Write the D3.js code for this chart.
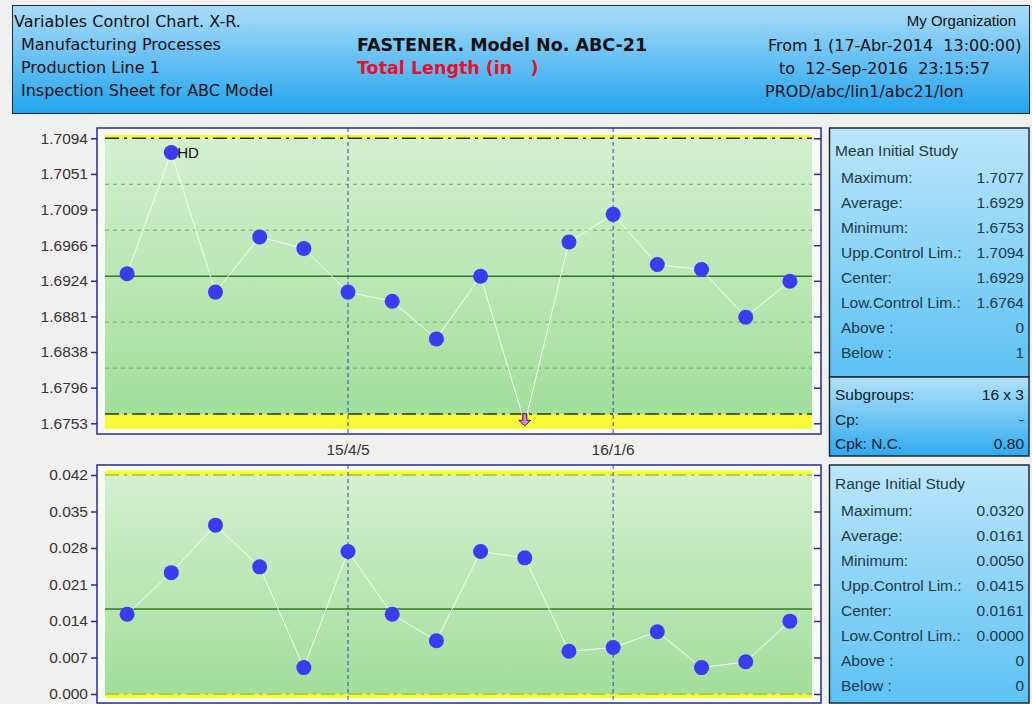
<!DOCTYPE html>
<html>
<head>
<meta charset="utf-8">
<script src="https://cdn.jsdelivr.net/npm/d3@7"></script>
<style>
  body { margin: 0; background: #f0f0f0; }
  text { white-space: pre; }
</style>
</head>
<body>
<svg id="chart" width="1032" height="704"></svg>
<script>
// ---- Data -------------------------------------------------------------
const subgroups = [1, 2, 3, 4, 5, 6, 7, 8, 9, 10, 11, 12, 13, 14, 15, 16];
const meanValues = [1.6932, 1.7077, 1.6910, 1.6976, 1.6962, 1.6910, 1.6899, 1.6854,
                    1.6929, 1.6753, 1.6970, 1.7003, 1.6943, 1.6937, 1.6880, 1.6923];
const rangeValues = [0.0151, 0.0230, 0.0320, 0.0241, 0.0050, 0.0270, 0.0151, 0.0101,
                     0.0270, 0.0258, 0.0081, 0.0088, 0.0118, 0.0050, 0.0061, 0.0138];

const meanLimits = { ucl: 1.7094, cl: 1.6929, lcl: 1.6764 };
const rangeLimits = { ucl: 0.0415, cl: 0.0161, lcl: 0.0000 };

const meanTickValues = [1.6753, 1.67956, 1.68383, 1.68809, 1.69235, 1.69661, 1.70088, 1.70514, 1.7094];
const meanTickLabels = ["1.6753", "1.6796", "1.6838", "1.6881", "1.6924", "1.6966", "1.7009", "1.7051", "1.7094"];
const rangeTickValues = [0, 0.006917, 0.013833, 0.02075, 0.027667, 0.034583, 0.0415];
const rangeTickLabels = ["0.000", "0.007", "0.014", "0.021", "0.028", "0.035", "0.042"];

const dateMarks = [ { subgroup: 6, label: "15/4/5" }, { subgroup: 12, label: "16/1/6" } ];
const pointNotes = [ { subgroup: 2, text: "HD" } ];

const headerLeft = ["Variables Control Chart. X-R.", "Manufacturing Processes", "Production Line 1", "Inspection Sheet for ABC Model"];
const headerTitle = "FASTENER. Model No. ABC-21";
const headerVariable = "Total Length (in   )";
const headerOrg = "My Organization";
const headerRight = ["From 1 (17-Abr-2014  13:00:00)", "to  12-Sep-2016  23:15:57", "PROD/abc/lin1/abc21/lon"];

const studyRowLabels = ["Maximum:", "Average:", "Minimum:", "Upp.Control Lim.:", "Center:", "Low.Control Lim.:", "Above :", "Below :"];
const meanStudyValues = ["1.7077", "1.6929", "1.6753", "1.7094", "1.6929", "1.6764", "0", "1"];
const rangeStudyValues = ["0.0320", "0.0161", "0.0050", "0.0415", "0.0161", "0.0000", "0", "0"];
const capabilityLabels = ["Subgroups:", "Cp:", "Cpk: N.C."];
const capabilityValues = ["16 x 3", "-", "0.80"];

// ---- Setup -------------------------------------------------------------
const svg = d3.select("#chart");
const defs = svg.append("defs");

function vGradient(id, stops) {
  const g = defs.append("linearGradient").attr("id", id)
    .attr("x1", 0).attr("y1", 0).attr("x2", 0).attr("y2", 1);
  stops.forEach(([o, c]) => g.append("stop").attr("offset", o).attr("stop-color", c));
}
vGradient("headerGrad", [[0, "#aadcf8"], [1, "#22a4ee"]]);
vGradient("panelGrad", [[0, "#bce6fa"], [1, "#5cc2f4"]]);
vGradient("capGrad", [[0, "#b4e2f8"], [1, "#2eaaf0"]]);
vGradient("greenGrad", [[0, "#d3f0cf"], [1, "#a3de9b"]]);

defs.append("clipPath").attr("id", "headerClip")
  .append("rect").attr("x", 12).attr("y", 5).attr("width", 1017.5).attr("height", 109);

const headFont = "'DejaVu Sans', sans-serif";
const bodyFont = "'Liberation Sans', Arial, sans-serif";

svg.append("rect").attr("width", 1032).attr("height", 704).attr("fill", "#f0f0f0");

// ---- Header ------------------------------------------------------------
svg.append("rect").attr("x", 12.5).attr("y", 5.5).attr("width", 1017).attr("height", 108)
  .attr("fill", "url(#headerGrad)").attr("stroke", "#1d2c3c").attr("stroke-width", 1);

const header = svg.append("g").attr("font-family", headFont).attr("fill", "#111")
  .attr("clip-path", "url(#headerClip)");
header.selectAll("text.left").data(headerLeft).join("text")
  .attr("class", "left")
  .attr("x", (d, i) => i === 0 ? 14 : 21)
  .attr("y", (d, i) => 27 + i * 23)
  .attr("font-size", 16)
  .text(d => d);
header.append("text").attr("x", 357).attr("y", 51).attr("font-size", 17.5)
  .attr("font-weight", "bold").text(headerTitle);
header.append("text").attr("x", 357).attr("y", 74).attr("font-size", 17.5)
  .attr("font-weight", "bold").attr("fill", "#e8102a").text(headerVariable);
header.append("text").attr("x", 1016).attr("y", 26).attr("font-size", 15)
  .attr("text-anchor", "end").attr("font-family", bodyFont).text(headerOrg);
header.selectAll("text.right").data(headerRight).join("text")
  .attr("class", "right")
  .attr("x", (d, i) => [768, 779, 765][i])
  .attr("y", (d, i) => 51 + i * 23)
  .attr("font-size", 16)
  .text(d => d);

// ---- Chart helpers -------------------------------------------------------
const x = d3.scalePoint().domain(subgroups).range([105, 812]).padding(0.5);

function drawChart(opts) {
  const { frame, inner, y, limits, values, tickValues, tickLabels, sigmaLines, limitColor, limitWidth } = opts;
  const g = svg.append("g");

  g.append("rect").attr("x", frame.x0).attr("y", frame.y0)
    .attr("width", frame.x1 - frame.x0).attr("height", frame.y1 - frame.y0)
    .attr("fill", "#f7fbf6");

  // out-of-control zones
  g.append("rect").attr("x", inner.x0).attr("y", inner.y0)
    .attr("width", inner.x1 - inner.x0).attr("height", inner.y1 - inner.y0)
    .attr("fill", "#f9f93a");
  // in-control zone
  g.append("rect").attr("x", inner.x0).attr("y", y(limits.ucl))
    .attr("width", inner.x1 - inner.x0).attr("height", y(limits.lcl) - y(limits.ucl))
    .attr("fill", "url(#greenGrad)");

  // sigma zone lines
  if (sigmaLines) {
    const su = (limits.ucl - limits.cl) / 3, sl = (limits.cl - limits.lcl) / 3;
    const zones = [limits.cl + su, limits.cl + 2 * su, limits.cl - sl, limits.cl - 2 * sl];
    g.selectAll("line.zone").data(zones).join("line")
      .attr("x1", inner.x0).attr("x2", inner.x1)
      .attr("y1", d => y(d)).attr("y2", d => y(d))
      .attr("stroke", "#6fae65").attr("stroke-width", 1).attr("stroke-dasharray", "4,4");
  }

  // centre line
  g.append("line").attr("x1", inner.x0).attr("x2", inner.x1)
    .attr("y1", y(limits.cl)).attr("y2", y(limits.cl))
    .attr("stroke", "#2f7a26").attr("stroke-width", 1.5);

  // control limits
  g.selectAll("line.limit").data([limits.ucl, limits.lcl]).join("line")
    .attr("x1", inner.x0).attr("x2", inner.x1)
    .attr("y1", d => y(d)).attr("y2", d => y(d))
    .attr("stroke", limitColor).attr("stroke-width", limitWidth)
    .attr("stroke-dasharray", "14,5,3,5");

  // date markers
  g.selectAll("line.date").data(dateMarks).join("line")
    .attr("x1", d => x(d.subgroup)).attr("x2", d => x(d.subgroup))
    .attr("y1", frame.y0).attr("y2", frame.y1)
    .attr("stroke", "#3344c4").attr("stroke-width", 1).attr("stroke-dasharray", "4,3");

  // frame border
  g.append("rect").attr("x", frame.x0).attr("y", frame.y0)
    .attr("width", frame.x1 - frame.x0).attr("height", frame.y1 - frame.y0)
    .attr("fill", "none").attr("stroke", "#2b2b8c").attr("stroke-width", 1.5);

  // axes
  const left = g.append("g").attr("transform", `translate(${frame.x0},0)`)
    .call(d3.axisLeft(y).tickValues(tickValues).tickFormat((d, i) => tickLabels[i])
      .tickSize(6).tickPadding(3));
  left.select(".domain").remove();
  left.selectAll(".tick line").attr("stroke", "#2b2b8c").attr("stroke-width", 1.5);
  left.selectAll(".tick text").attr("font-family", bodyFont).attr("font-size", 15.5)
    .attr("fill", "#3a3232");

  const right = g.append("g").attr("transform", `translate(${frame.x1},0)`)
    .call(d3.axisLeft(y).tickValues(tickValues).tickFormat("").tickSize(7));
  right.select(".domain").remove();
  right.selectAll(".tick line").attr("stroke", "#2b2b8c").attr("stroke-width", 1.5);

  // data trace
  const pts = subgroups.map((s, i) => ({ s, v: values[i] }));
  g.append("path").datum(pts)
    .attr("fill", "none").attr("stroke", "#f4fff2").attr("stroke-width", 1)
    .attr("d", d3.line().x(d => x(d.s)).y(d => y(d.v)));

  const inside = pts.filter(d => d.v >= limits.lcl && d.v <= limits.ucl);
  const below = pts.filter(d => d.v < limits.lcl);
  const above = pts.filter(d => d.v > limits.ucl);

  g.selectAll("circle.pt").data(inside).join("circle")
    .attr("cx", d => x(d.s)).attr("cy", d => y(d.v)).attr("r", 7.5)
    .attr("fill", "#3b3bf0");

  const arrowDown = "M-2,-9.5 L2,-9.5 L2,-3 L6,-3 L0,2.5 L-6,-3 L-2,-3 Z";
  g.selectAll("path.below").data(below).join("path")
    .attr("transform", d => `translate(${x(d.s)},${y(d.v)})`)
    .attr("d", arrowDown).attr("fill", "#e57ae0").attr("stroke", "#3a1d36").attr("stroke-width", 1);
  g.selectAll("path.above").data(above).join("path")
    .attr("transform", d => `translate(${x(d.s)},${y(d.v)}) scale(1,-1)`)
    .attr("d", arrowDown).attr("fill", "#e57ae0").attr("stroke", "#3a1d36").attr("stroke-width", 1);

  return g;
}

// ---- Mean (X-bar) chart ---------------------------------------------------
const yMean = d3.scaleLinear().domain([1.6753, 1.7094]).range([423.3, 138.3]);
const meanChart = drawChart({
  frame: { x0: 97, x1: 821, y0: 128, y1: 434 },
  inner: { x0: 105, x1: 812, y0: 135, y1: 429 },
  y: yMean, limits: meanLimits, values: meanValues,
  tickValues: meanTickValues, tickLabels: meanTickLabels,
  sigmaLines: true, limitColor: "#263a1c", limitWidth: 1.5
});
meanChart.selectAll("text.note").data(pointNotes).join("text")
  .attr("x", d => x(d.subgroup) + 6)
  .attr("y", d => yMean(meanValues[subgroups.indexOf(d.subgroup)]) + 5.5)
  .attr("font-family", bodyFont).attr("font-size", 15).attr("fill", "#111")
  .text(d => d.text);

svg.selectAll("text.dateLabel").data(dateMarks).join("text")
  .attr("x", d => x(d.subgroup)).attr("y", 455)
  .attr("text-anchor", "middle").attr("font-family", bodyFont).attr("font-size", 15.5)
  .attr("fill", "#333").text(d => d.label);

// ---- Range chart ----------------------------------------------------------
const yRange = d3.scaleLinear().domain([0, 0.0415]).range([694, 475]);
drawChart({
  frame: { x0: 97, x1: 821, y0: 465, y1: 703 },
  inner: { x0: 105, x1: 812, y0: 470.5, y1: 698 },
  y: yRange, limits: rangeLimits, values: rangeValues,
  tickValues: rangeTickValues, tickLabels: rangeTickLabels,
  sigmaLines: false, limitColor: "#8fcc3a", limitWidth: 1.5
});

// ---- Study panels ---------------------------------------------------------
function panel(y0, y1, fill) {
  svg.append("rect").attr("x", 829.5).attr("y", y0).attr("width", 199.5).attr("height", y1 - y0)
    .attr("fill", fill).attr("stroke", "#1e2a36").attr("stroke-width", 1.5);
}
panel(128, 377, "url(#panelGrad)");
panel(377, 456, "url(#capGrad)");
panel(465, 703, "url(#panelGrad)");

const panelText = svg.append("g").attr("font-family", bodyFont).attr("font-size", 15.5).attr("fill", "#1d3a48");

function studyBlock(title, titleY, rowY, values) {
  panelText.append("text").attr("x", 835).attr("y", titleY).text(title);
  panelText.selectAll(null).data(studyRowLabels).join("text")
    .attr("x", 841).attr("y", (d, i) => rowY + i * 25).text(d => d);
  panelText.selectAll(null).data(values).join("text")
    .attr("x", 1024).attr("y", (d, i) => rowY + i * 25).attr("text-anchor", "end").text(d => d);
}
studyBlock("Mean Initial Study", 156, 183, meanStudyValues);
studyBlock("Range Initial Study", 489, 516, rangeStudyValues);

panelText.selectAll(null).data(capabilityLabels).join("text")
  .attr("x", 835).attr("y", (d, i) => 400 + i * 24.5).attr("fill", "#0c1c28").text(d => d);
panelText.selectAll(null).data(capabilityValues).join("text")
  .attr("x", 1024).attr("y", (d, i) => 400 + i * 24.5).attr("text-anchor", "end")
  .attr("fill", "#0c1c28").text(d => d);
</script>
</body>
</html>
